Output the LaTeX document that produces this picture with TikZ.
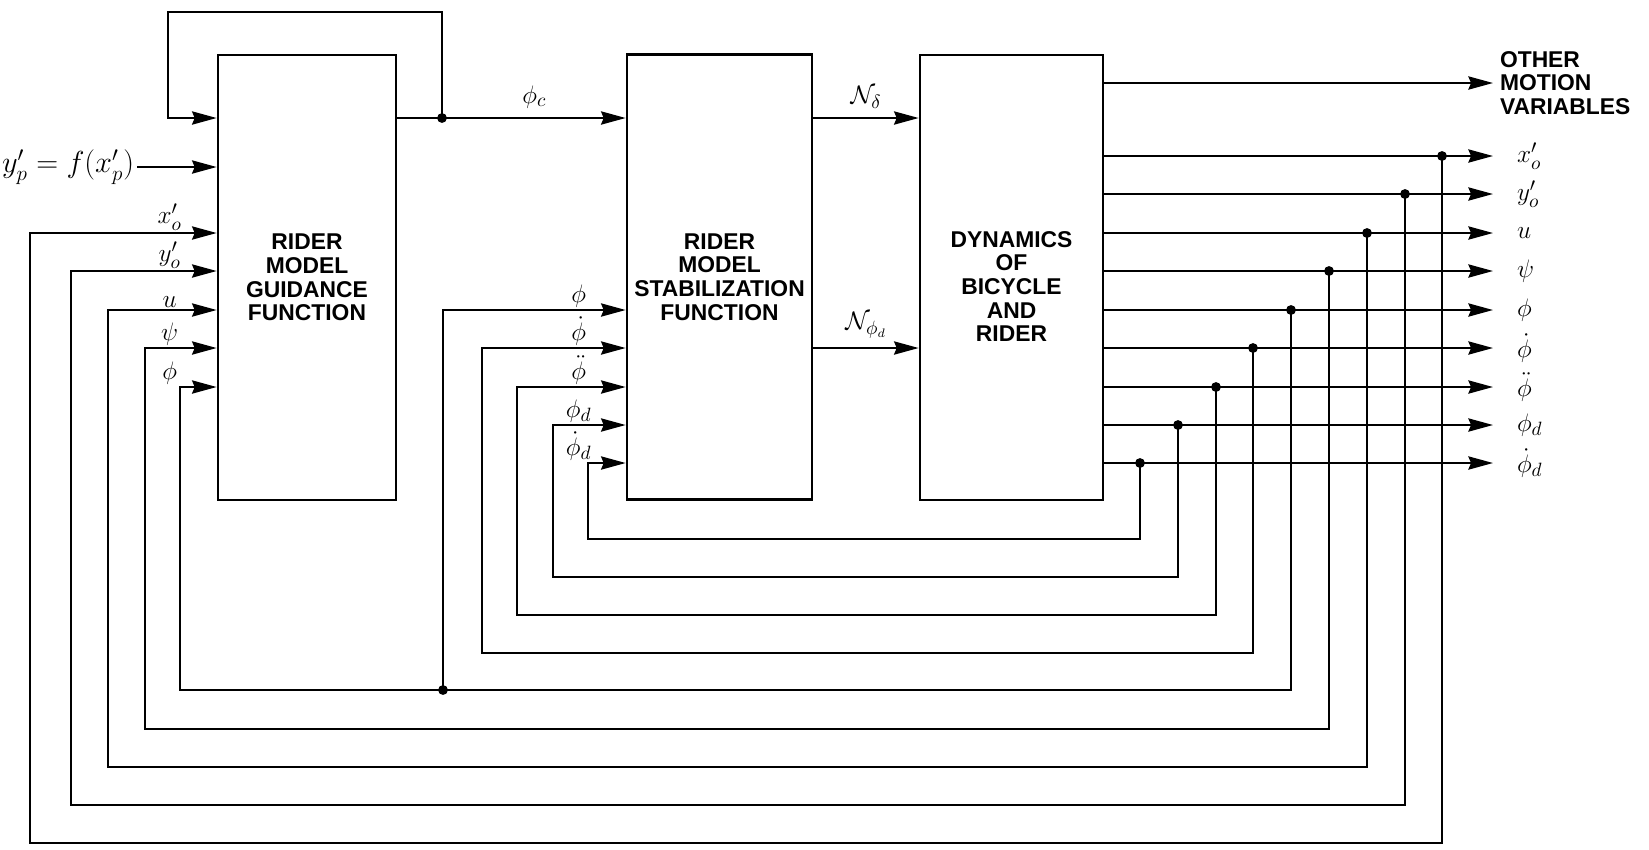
\documentclass[tikz,border=0pt]{standalone}
\usepackage{fontspec}
\setsansfont{Liberation Sans}
\usetikzlibrary{arrows.meta}

\newcommand{\blkfont}{\sffamily\bfseries\fontsize{13}{13.5}\selectfont}
\tikzset{
  blk/.style={draw, line width=1.5pt, minimum width=#1, minimum height=89mm,
    inner sep=0pt, align=center, font=\blkfont},
  sig/.style={inner sep=1pt, font=\fontsize{15}{17}\selectfont},
}

\begin{document}
\begin{tikzpicture}[x=0.2mm, y=-0.2mm, line width=1.3pt,
  >={Stealth[length=14pt,width=7.5pt,inset=1.5pt]}]
  \useasboundingbox (0,0) rectangle (1649,849);
  % the three blocks
  \node[blk=35.6mm] (guid) at (307,277.5) {RIDER\\MODEL\\GUIDANCE\\FUNCTION};
  \node[blk=37mm]   (stab) at (719.5,277) {RIDER\\MODEL\\STABILIZATION\\FUNCTION};
  \node[blk=36.6mm] (dyn)  at (1011.5,277.5) {};
  \node[font=\blkfont, align=center] (dyntxt) at ([yshift=-1.8mm]dyn.center) {DYNAMICS\\OF\\BICYCLE\\AND\\RIDER};

  % commanded roll angle, also looped back over the top
  \coordinate (jc) at (442,118);
  \draw[->] (guid.east |- jc) -- node[sig, above=4pt, pos=0.6] (phic) {$\phi_c$} (stab.west |- jc);
  \fill (jc) circle (2.8pt);
  \draw[->] (jc) |- (168,12) |- (guid.west |- jc);
  \node[sig, anchor=east, font=\fontsize{17}{19}\selectfont] (path) at (137,167) {$y'_p = f(x'_p)$};
  \draw[->] (path.east) -- (guid.west |- path.east);

  % torques into the bicycle
  \draw[->] (stab.east |- jc) -- node[sig, above=4pt] (ndel) {$\mathcal{N}_\delta$} (dyn.west |- jc);
  \draw[->] (stab.east |- 0,348) -- node[sig, above=4pt] (nphi) {$\mathcal{N}_{\phi_d}$} (dyn.west |- 0,348);
  \draw[->] (dyn.east |- 0,83) -- (1493,83) node[right, align=left, font=\blkfont] (other) {OTHER\\MOTION\\VARIABLES};

  % motion variables tapped off and fed back
  \foreach \yo/\xj/\yb/\xl/\yi/\tgt/\lab [count=\i] in {
      156/1442/843/30/233/guid/{x'_o},
      194/1405/805/71/271/guid/{y'_o},
      233/1367/767/108/310/guid/{u},
      271/1329/729/145/348/guid/{\psi},
      310/1291/690/180/387/guid/{\phi},
      348/1253/653/482/348/stab/{\dot\phi},
      387/1216/615/517/387/stab/{\ddot\phi},
      425/1178/577/553/425/stab/{\phi_d},
      463/1140/539/588/463/stab/{\dot\phi_d}}{
    \coordinate (j\i) at (\xj,\yo);
    \draw[->] (dyn.east |- j\i) -- (1493,\yo) node[sig, right=12pt] (out\i) {$\lab$};
    \fill (j\i) circle (2.8pt);
    \draw[->] (j\i) |- (\xl,\yb) |- (\tgt.west |- 0,\yi) node[sig, above, xshift=-9.4mm] (in\i) {$\lab$};
  }
  % roll angle to the stabilization block too
  \coordinate (jphi) at (443,690);
  \fill (jphi) circle (2.8pt);
  \draw[->] (jphi) |- (stab.west |- 0,310) node[sig, above, xshift=-9.4mm] (inphi) {$\phi$};
\end{tikzpicture}
\end{document}
